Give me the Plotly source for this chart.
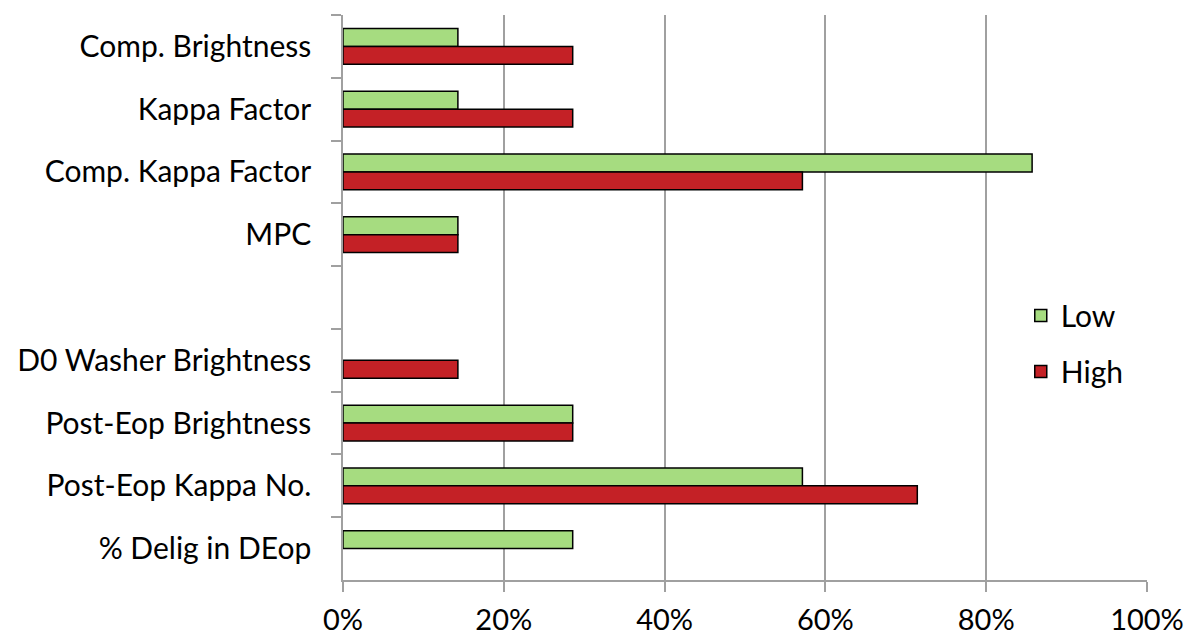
import plotly.graph_objects as go

categories = ["Comp. Brightness", "Kappa Factor", "Comp. Kappa Factor", "MPC", " ",
              "D0 Washer Brightness", "Post-Eop Brightness", "Post-Eop Kappa No.", "% Delig in DEop"]
low = [0.1429, 0.1429, 0.8571, 0.1429, None, None, 0.2857, 0.5714, 0.2857]
high = [0.2857, 0.2857, 0.5714, 0.1429, None, 0.1429, 0.2857, 0.7143, None]
x_ticks = [0, 0.2, 0.4, 0.6, 0.8, 1.0]
x_ticklabels = ["0%", "20%", "40%", "60%", "80%", "100%"]

FONT = "Lato"
FS = 30
fig = go.Figure()
fig.add_trace(go.Bar(y=categories, x=low, orientation="h", name="Low", legendgroup="a",
                     marker=dict(color="#A6DC80", line=dict(color="black", width=1.5))))
fig.add_trace(go.Bar(y=categories, x=high, orientation="h", name="High", legendgroup="b",
                     marker=dict(color="#C42126", line=dict(color="black", width=1.5))))

fig.update_layout(
    width=1188, height=637,
    margin=dict(l=343, r=41, t=15, b=57),
    paper_bgcolor="white", plot_bgcolor="white",
    barmode="group", bargap=0.43, bargroupgap=0,
    font=dict(family=FONT, size=FS, color="black"),
    legend=dict(x=0.843, y=0.514, xanchor="left", yanchor="top", traceorder="grouped",
                tracegroupgap=14, font=dict(size=FS), bgcolor="rgba(0,0,0,0)"),
    xaxis=dict(range=[0, 1], tickvals=x_ticks, ticktext=x_ticklabels, automargin=False,
               showgrid=True, gridcolor="#A0A0A0", gridwidth=1.5,
               showline=True, linecolor="#A0A0A0", linewidth=1.5,
               ticks="outside", ticklen=10, tickcolor="#A0A0A0", tickwidth=1.5,
               zeroline=False, tickfont=dict(size=29), ticklabelstandoff=3),
    yaxis=dict(type="category", autorange="reversed", categoryorder="array", categoryarray=categories,
               automargin=False,
               showline=True, linecolor="#A0A0A0", linewidth=1.5,
               ticks="outside", ticklen=10, tickcolor="#A0A0A0", tickwidth=1.5,
               tickson="boundaries", showgrid=False, ticklabelstandoff=24,
               tickfont=dict(size=FS)),
)
fig.write_html("out.html")
